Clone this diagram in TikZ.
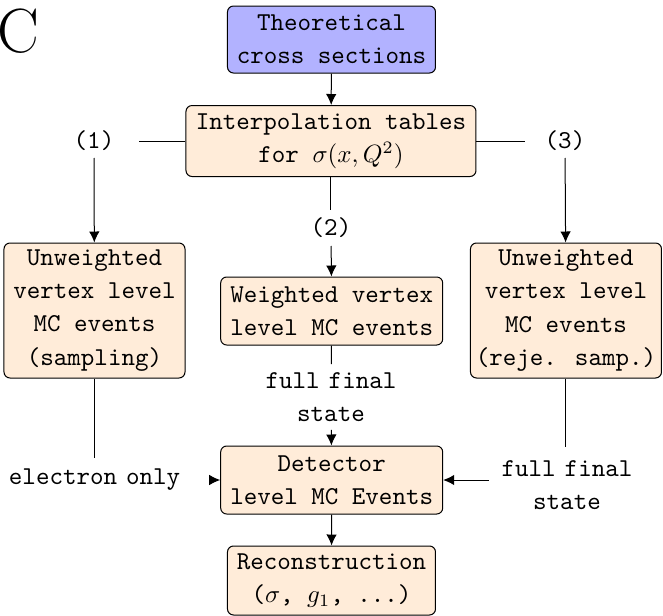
\documentclass[tikz,border=0pt]{standalone}
\usepackage{tikz}
\usetikzlibrary{positioning}
\usetikzlibrary{arrows}
\usetikzlibrary{arrows.meta}
\usepackage{amsmath}
\newcommand{\lsp}{\hspace{0.35em}}

\begin{document}
\begin{tikzpicture}[x=0.4pt, y=-0.4pt,
    box/.style={draw, rounded corners=2.4pt, fill=orange!15, align=center, inner sep=0pt,
        font=\fontsize{10.3}{13.25}\selectfont\ttfamily},
    lbl/.style={align=center, font=\fontsize{10.3}{13.25}\selectfont\ttfamily},
    arr/.style={-{Latex[length=4.4pt,width=4.2pt]}}]
    \useasboundingbox (0,0) rectangle (663,616);

    % Panel letter
    \node[anchor=base west, inner sep=0pt, font=\fontsize{25}{25}\selectfont] (panel) at (-3,52) {C};

    % Top of the chain
    \node[box, fill=blue!30, minimum width=83.2pt, minimum height=26.8pt] (theo) at (331.5,39.5) {Theoretical\\cross sections};
    \node[box, minimum width=116pt, minimum height=28.4pt] (interp) at (331,141) {Interpolation tables\\for $\sigma(x,Q^2)$};
    \draw[arr] (theo) -- (interp);

    % Three ways
    \node[lbl, inner xsep=9.5pt, inner ysep=2.6pt] (one) at (94,141) {(1)};
    \node[lbl, inner xsep=7.5pt, inner ysep=2.6pt] (three) at (565,141) {(3)};
    \node[lbl, inner ysep=3pt] (two) at (331,228) {(2)};
    \draw (interp) -- (one);
    \draw (interp) -- (three);
    \draw (interp) -- (two);

    % Vertex level events
    \node[box, minimum width=72.4pt, minimum height=54pt] (uwl) at (94.5,310.5) {Unweighted\\vertex level\\MC events\\(sampling)};
    \node[box, minimum width=88.8pt, minimum height=27.2pt] (wgt) at (331.7,311) {Weighted vertex\\level MC events};
    \node[box, minimum width=76.4pt, minimum height=54pt] (uwr) at (566,310.5) {Unweighted\\vertex level\\MC events\\(reje. samp.)};
    \draw[arr] (one) -- (uwl);
    \draw[arr] (two) -- (wgt);
    \draw[arr] (three) -- (uwr);

    % Detector level
    \node[box, minimum width=88.8pt, minimum height=27.2pt] (det) at (331.7,480) {Detector\\level MC Events};
    \node[lbl, inner ysep=3.1pt] (fsc) at (331,397) {full\lsp final\\state};
    \node[lbl, inner xsep=12pt, inner ysep=4.3pt] (elec) at (94.6,480) {electron\lsp only};
    \node[lbl, inner xsep=5pt, inner ysep=5.1pt] (fsr) at (567,485) {full\lsp final\\state};
    \draw (wgt) -- (fsc);
    \draw[arr] (fsc) -- (det);
    \draw (uwl.south) -- (uwl.south |- elec.north);
    \draw[arr] (elec) -- (det);
    \draw (uwr.south) -- (uwr.south |- fsr.north);
    \draw[arr] (fsr.west |- det.east) -- (det);

    % Reconstruction
    \node[box, minimum width=83.2pt, minimum height=27.6pt] (rec) at (331.5,580.5) {Reconstruction\\($\sigma$, $g_1$, ...)};
    \draw[arr] (det) -- (rec);
\end{tikzpicture}
\end{document}
